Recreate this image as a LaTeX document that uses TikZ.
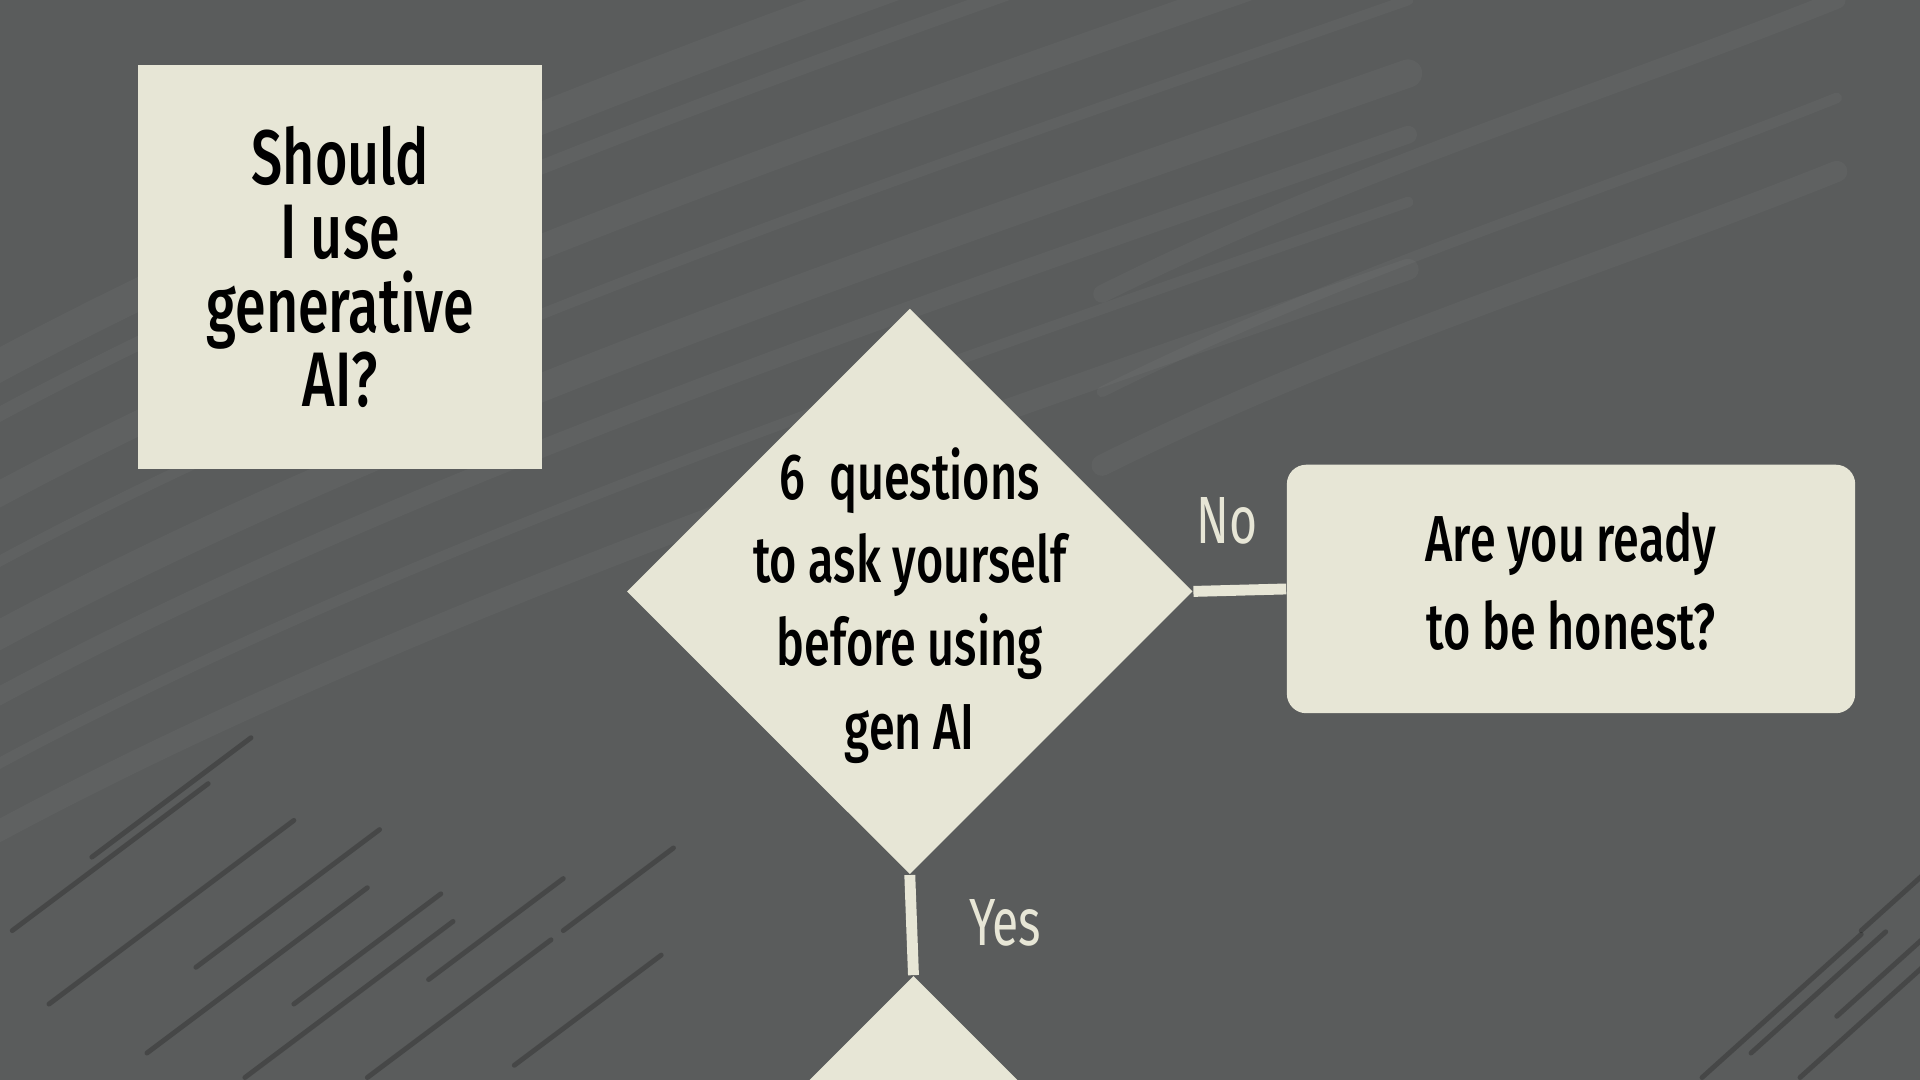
\documentclass[tikz,border=0pt]{standalone}
\usepackage{fontspec}
\newfontfamily\qfont[FakeStretch=0.72]{Fira Sans Medium}
\newfontfamily\lblfont[FakeStretch=0.72]{Fira Sans}
\usetikzlibrary{shapes.geometric}

\definecolor{slate}{RGB}{90,92,92}
\definecolor{paper}{RGB}{231,230,214}
\newcommand{\pxu}{0.3484pt}

\tikzset{
  titlebox/.style={rectangle, fill=paper, minimum size=115pt, inner sep=0pt,
    align=center, font=\qfont\fontsize{22}{21}\selectfont},
  decision/.style={diamond, fill=paper, aspect=1, inner sep=0pt,
    minimum width=161pt, minimum height=161pt},
  qtext/.style={align=center, font=\qfont\fontsize{18.5}{23.7}\selectfont},
  answer/.style={rectangle, rounded corners=5.5pt, fill=paper, inner sep=0pt,
    minimum width=161.7pt, minimum height=70.7pt,
    align=center, font=\qfont\fontsize{18.5}{23.4}\selectfont},
  branch/.style={draw=paper, line width=3.1pt},
  branchlabel/.style={text=paper, font=\lblfont\fontsize{19}{19}\selectfont},
  lightstroke/.style={white, opacity=0.035, line cap=round},
  darkstroke/.style={black, opacity=0.22, line cap=round},
}

\begin{document}
\begin{tikzpicture}[x=\pxu,y=-\pxu]

  \useasboundingbox (0,0) rectangle (1568,882);
  \clip (0,0) rectangle (1568,882);
  \fill[slate] (0,0) rectangle (1568,882);

  % brush texture
  \foreach \y/\w in {70/9pt,110/4pt,175/7pt,230/3pt,290/8pt,340/5pt,395/3pt,450/6pt}
    \draw[lightstroke, line width=\w]
      (-40,\y+250) .. controls (300,\y+60) and (750,\y-90) .. (1150,\y-230);
  \foreach \y/\w in {120/5pt,200/3pt,260/6pt}
    \draw[lightstroke, line width=\w]
      (900,\y+120) .. controls (1100,\y+20) and (1300,\y-40) .. (1500,\y-120);
  \foreach \x/\y/\l in {10/760/160,40/820/200,75/700/130,120/860/180,160/790/150,
      200/880/170,240/820/120,300/880/150,350/800/110,420/870/120,460/760/90}
    \draw[darkstroke, line width=1.4pt] (\x,\y) -- ++(\l,-0.75*\l);
  \foreach \x/\y/\l in {1390/880/130,1430/860/110,1470/880/120,1500/830/90,1520/760/70}
    \draw[darkstroke, line width=1.4pt] (\x,\y) -- ++(\l,-0.9*\l);

  % boxes
  \node[titlebox] (ask) at (278,218) {Should\\I use\\generative\\AI?};
  \node[decision, label={[qtext,yshift=-4pt]center:{6~~questions\\to ask yourself\\before using\\gen AI}}] (q1) at (743,483) {};
  \node[answer] (honest) at (1283,481) {\raisebox{3pt}{\begin{tabular}{@{}c@{}}Are you ready\\[1.6pt]to be honest?\end{tabular}}};
  \node[decision] (q2) at (746,1028) {};

  % branches
  \draw[branch] (q1.east) -- (honest.west);
  \draw[branch] (q1.south) -- (q2.north);
  \node[branchlabel] (no) at (1002,425) {No};
  \node[branchlabel] (yes) at (821,754) {Yes};

\end{tikzpicture}
\end{document}
